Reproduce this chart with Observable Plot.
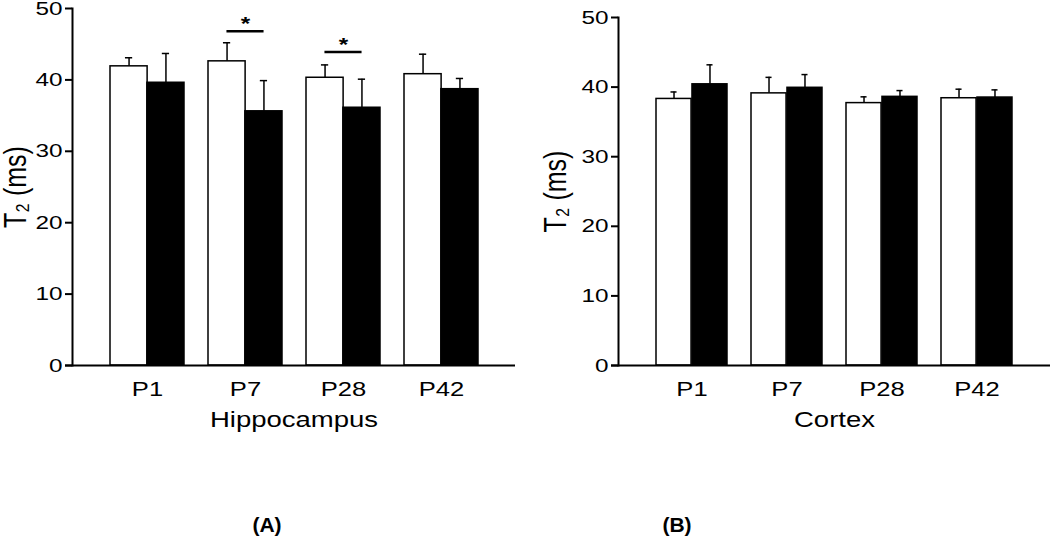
<!DOCTYPE html>
<html>
<head>
<meta charset="utf-8">
<script src="https://cdn.jsdelivr.net/npm/d3@7"></script>
<script src="https://cdn.jsdelivr.net/npm/@observablehq/plot@0.6"></script>
<style>
  html, body { margin: 0; padding: 0; background: #fff; }
  #root { position: relative; width: 1050px; height: 542px; overflow: hidden; font-family: "Liberation Sans", Arial, sans-serif; }
  .panel { position: absolute; top: 0; }
  .cap { position: absolute; width: 100px; text-align: center; font-weight: bold; font-size: 21px; top: 513px; }
</style>
</head>
<body>
<div id="root"></div>
<script>
// ---- data ----
const categories = ["P1", "P7", "P28", "P42"];

const hippoCtrl    = [41.9, 42.6, 40.3, 40.8];
const hippoCtrlErr = [1.2, 2.6, 1.8, 2.8];
const hippoExp     = [39.6, 35.6, 36.1, 38.7];
const hippoExpErr  = [4.1, 4.3, 4.0, 1.5];

const cortexCtrl    = [38.3, 39.1, 37.7, 38.4];
const cortexCtrlErr = [1.0, 2.3, 0.9, 1.3];
const cortexExp     = [40.4, 39.9, 38.6, 38.5];
const cortexExpErr  = [2.8, 1.9, 0.9, 1.1];

const hippoSigCats = ["P7", "P28"];
const hippoSigY    = [46.8, 43.9];

const yTicks = [0, 10, 20, 30, 40, 50];
const yLabel = "T₂ (ms)";

const STRETCH = 1.28; // the reference's lettering is drawn wider than it is tall

function stretchText(svg, s) {
  svg.querySelectorAll("text").forEach(t => {
    let tr = t.getAttribute("transform");
    if (tr === null) {
      const x = t.getAttribute("x") || 0, y = t.getAttribute("y") || 0;
      t.removeAttribute("x"); t.removeAttribute("y");
      tr = `translate(${x},${y})`;
    }
    t.setAttribute("transform", tr + (tr.includes("rotate") ? ` scale(1,${s})` : ` scale(${s},1)`));
  });
}

function makePanel(o) {
  const H = 460;
  const pi = 0.25, po = 0.377;
  const xs = Plot.scale({x: {type: "band", domain: categories, range: [o.marginLeft, o.width - o.marginRight], paddingInner: pi, paddingOuter: po}});
  const bw = xs.bandwidth;
  const half = bw / 2, q = bw / 4, cap = 3.5;
  const ctrl = categories.map((c, i) => ({cat: c, mean: o.ctrl[i], top: o.ctrl[i] + o.ctrlErr[i]}));
  const exp  = categories.map((c, i) => ({cat: c, mean: o.exp[i], top: o.exp[i] + o.expErr[i]}));
  const sig  = (o.sigCats || []).map((c, i) => ({cat: c, y: o.sigY[i]}));
  const svg = Plot.plot({
    width: o.width,
    height: H,
    marginLeft: o.marginLeft,
    marginRight: o.marginRight,
    marginTop: o.marginTop,
    marginBottom: H - 365,
    style: {fontFamily: "'Liberation Sans', Arial, sans-serif", fontSize: "19px", background: "white", color: "black", overflow: "visible"},
    x: {domain: categories, paddingInner: pi, paddingOuter: po},
    y: {domain: [0, 50]},
    marks: [
      Plot.barY(ctrl, {x: "cat", y: "mean", fill: "white", stroke: "black", strokeWidth: 1.5, insetRight: half}),
      Plot.barY(exp, {x: "cat", y: "mean", fill: "black", stroke: "black", strokeWidth: 1.5, insetLeft: half}),
      Plot.ruleX(ctrl, {x: "cat", y1: "mean", y2: "top", dx: -q, stroke: "black", strokeWidth: 1.5}),
      Plot.ruleX(exp, {x: "cat", y1: "mean", y2: "top", dx: q, stroke: "black", strokeWidth: 1.5}),
      Plot.tickY(ctrl, {x: "cat", y: "top", insetLeft: q - cap, insetRight: bw - q - cap, stroke: "black", strokeWidth: 1.5}),
      Plot.tickY(exp, {x: "cat", y: "top", insetLeft: bw - q - cap, insetRight: q - cap, stroke: "black", strokeWidth: 1.5}),
      Plot.tickY(sig, {x: "cat", y: "y", insetLeft: q, insetRight: q, stroke: "black", strokeWidth: 2.5}),
      Plot.text(sig, {x: "cat", y: "y", text: () => "*", lineAnchor: "bottom", dy: -1, fontSize: 19, fontWeight: "bold"}),
      Plot.ruleY([0], {stroke: "black", strokeWidth: 2, insetLeft: -7, insetRight: o.extendRight || 0}),
      Plot.frame({anchor: "left", stroke: "black", strokeWidth: 2}),
      Plot.axisY({ticks: yTicks, tickSize: 7, tickPadding: 3, strokeWidth: 2, fontSize: 19, label: null}),
      Plot.axisX({tickSize: 0, tickPadding: 16, fontSize: 20, label: null}),
      Plot.text([o.label], {text: d => d, frameAnchor: "bottom", textAnchor: "middle", lineAnchor: "top", dy: 46, fontSize: 21.5}),
      Plot.text([yLabel], {text: d => d, frameAnchor: "left", textAnchor: "middle", rotate: -90, lineAnchor: "top", dx: -o.yTitleOffset, fontSize: 25})
    ]
  });
  stretchText(svg, STRETCH);
  return svg;
}

const root = document.getElementById("root");

const left = makePanel({
  width: 525, marginLeft: 72, marginRight: 10, marginTop: 8,
  ctrl: hippoCtrl, ctrlErr: hippoCtrlErr, exp: hippoExp, expErr: hippoExpErr,
  sigCats: hippoSigCats, sigY: hippoSigY, label: "Hippocampus", yTitleOffset: 69
});
const ld = document.createElement("div");
ld.className = "panel"; ld.style.left = "0px";
ld.appendChild(left);
root.appendChild(ld);

const right = makePanel({
  width: 525, marginLeft: 93, marginRight: 0, marginTop: 17,
  ctrl: cortexCtrl, ctrlErr: cortexCtrlErr, exp: cortexExp, expErr: cortexExpErr,
  label: "Cortex", yTitleOffset: 75
});
const rd = document.createElement("div");
rd.className = "panel"; rd.style.left = "525px";
rd.appendChild(right);
root.appendChild(rd);

const capA = document.createElement("div");
capA.className = "cap"; capA.style.left = "217px"; capA.textContent = "(A)";
root.appendChild(capA);
const capB = document.createElement("div");
capB.className = "cap"; capB.style.left = "627px"; capB.textContent = "(B)";
root.appendChild(capB);
</script>
</body>
</html>
